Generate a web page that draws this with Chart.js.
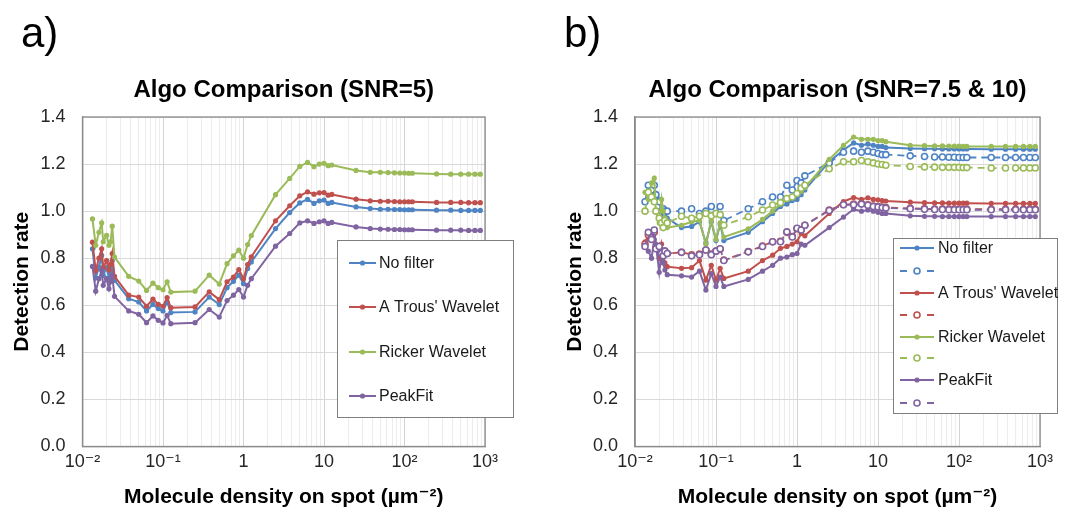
<!DOCTYPE html>
<html><head><meta charset="utf-8">
<script src="https://cdn.jsdelivr.net/npm/chart.js@4.4.1/dist/chart.umd.min.js"></script>
<style>
html,body{margin:0;padding:0;background:#fff;}
#wrap{position:relative;width:1072px;height:510px;overflow:hidden;background:#fff;}
.pane{position:absolute;top:0;width:536px;height:510px;}
.tag{position:absolute;font-family:"Liberation Sans",Arial,sans-serif;font-size:42px;line-height:42px;color:#000;}
</style></head><body>
<div id="wrap">
 <div class="pane" style="left:0"><canvas id="ca" width="536" height="510"></canvas></div>
 <div class="pane" style="left:536px"><canvas id="cb" width="536" height="510"></canvas></div>
 <div class="tag" style="left:21px;top:12px">a)</div>
 <div class="tag" style="left:564px;top:12px">b)</div>
</div>
<script>
// ---------- data ----------
const density = [0.0133, 0.0146, 0.016, 0.0173, 0.0181, 0.0199, 0.0213, 0.0223, 0.0234, 0.025,
  0.0375, 0.05, 0.0625, 0.075, 0.0875, 0.1, 0.1125, 0.125,
  0.25, 0.375, 0.5, 0.625, 0.75, 0.875, 1, 1.125, 1.25,
  2.5, 3.75, 5, 6.25, 7.5, 8.75, 10, 11.25, 12.5,
  25, 37.5, 50, 62.5, 75, 87.5, 100, 112.5, 125,
  250, 375, 500, 625, 750, 875];

const xTickLabels = ['10\u207B\u00B2', '10\u207B\u00B9', '1', '10', '10\u00B2', '10\u00B3'];
const yTickValues = [0, 0.2, 0.4, 0.6, 0.8, 1.0, 1.2, 1.4];
const seriesNames = ['No filter', "A Trous' Wavelet", 'Ricker Wavelet', 'PeakFit'];
const titleA = 'Algo Comparison (SNR=5)';
const titleB = 'Algo Comparison (SNR=7.5 & 10)';
const xTitle = 'Molecule density on spot (\u00B5m\u207B\u00B2)';
const yTitle = 'Detection rate';

// panel a
const noFilterA = [0.84, 0.717, 0.762, 0.812, 0.727, 0.76, 0.717, 0.748, 0.79, 0.706,
  0.628, 0.614, 0.576, 0.604, 0.586, 0.576, 0.614, 0.569,
  0.572, 0.635, 0.603, 0.675, 0.702, 0.728, 0.692, 0.756, 0.784,
  0.926, 0.994, 1.035, 1.05, 1.033, 1.044, 1.047, 1.033, 1.037,
  1.018, 1.011, 1.008, 1.008, 1.007, 1.007, 1.006, 1.006, 1.006,
  1.004, 1.004, 1.003, 1.003, 1.003, 1.003];
const aTrousA = [0.868, 0.748, 0.8, 0.84, 0.76, 0.79, 0.75, 0.775, 0.82, 0.723,
  0.643, 0.635, 0.596, 0.626, 0.604, 0.596, 0.633, 0.59,
  0.593, 0.657, 0.624, 0.70, 0.72, 0.752, 0.713, 0.773, 0.806,
  0.959, 1.023, 1.065, 1.082, 1.072, 1.078, 1.079, 1.068, 1.071,
  1.051, 1.044, 1.042, 1.042, 1.041, 1.04, 1.04, 1.04, 1.04,
  1.037, 1.037, 1.037, 1.036, 1.036, 1.036];
const rickerA = [0.967, 0.855, 0.91, 0.95, 0.87, 0.897, 0.855, 0.87, 0.936, 0.805,
  0.723, 0.703, 0.663, 0.694, 0.675, 0.666, 0.70, 0.656,
  0.66, 0.728, 0.69, 0.777, 0.81, 0.834, 0.80, 0.858, 0.896,
  1.07, 1.139, 1.19, 1.207, 1.189, 1.2, 1.203, 1.193, 1.196,
  1.173, 1.165, 1.165, 1.164, 1.163, 1.162, 1.162, 1.161, 1.161,
  1.158, 1.157, 1.157, 1.157, 1.157, 1.157];
const peakFitA = [0.765, 0.66, 0.713, 0.748, 0.685, 0.713, 0.67, 0.70, 0.727, 0.638,
  0.576, 0.562, 0.526, 0.555, 0.536, 0.525, 0.557, 0.522,
  0.526, 0.582, 0.55, 0.62, 0.643, 0.667, 0.635, 0.685, 0.713,
  0.851, 0.905, 0.95, 0.959, 0.948, 0.955, 0.959, 0.948, 0.952,
  0.933, 0.926, 0.924, 0.923, 0.922, 0.922, 0.921, 0.921, 0.921,
  0.919, 0.919, 0.919, 0.918, 0.918, 0.918];

// panel b (solid = SNR 7.5, dashed = SNR 10)
const noFilterB = [1.04, 1.07, 1.11, 1.08, 1.06, 1.05, 1.01, 0.95, 1.0, 0.97,
  0.93, 0.935, 0.955, 0.865, 0.955, 0.875, 0.945, 0.875,
  0.91, 0.955, 0.99, 1.02, 1.03, 1.045, 1.05, 1.07, 1.09,
  1.21, 1.26, 1.29, 1.28, 1.285, 1.28, 1.275, 1.275, 1.27,
  1.266, 1.265, 1.265, 1.264, 1.264, 1.264, 1.264, 1.264, 1.264,
  1.263, 1.263, 1.263, 1.263, 1.263, 1.263];
const noFilterB10 = [1.04, 1.11, 1.09, 1.11, 1.07, 1.04, 1.0, 1.01, 1.0, 1.0,
  1.0, 1.01, 0.99, 1.0, 1.02, 0.99, 1.02, 0.96,
  1.01, 1.04, 1.06, 1.06, 1.11, 1.09, 1.13, 1.12, 1.15,
  1.205, 1.25, 1.255, 1.25, 1.255, 1.25, 1.245, 1.24, 1.24,
  1.235, 1.232, 1.23, 1.23, 1.229, 1.229, 1.228, 1.228, 1.228,
  1.228, 1.228, 1.228, 1.228, 1.228, 1.228];
const aTrousB = [0.87, 0.885, 0.905, 0.92, 0.85, 0.80, 0.86, 0.82, 0.78, 0.764,
  0.757, 0.76, 0.79, 0.707, 0.77, 0.707, 0.757, 0.714,
  0.745, 0.79, 0.813, 0.842, 0.85, 0.86, 0.87, 0.905, 0.895,
  0.99, 1.041, 1.058, 1.05, 1.057, 1.05, 1.048, 1.045, 1.043,
  1.038, 1.036, 1.035, 1.035, 1.034, 1.034, 1.034, 1.034, 1.034,
  1.033, 1.033, 1.033, 1.033, 1.033, 1.033];
const aTrousB10 = [0.86, 0.9, 0.89, 0.91, 0.845, 0.85, 0.825, 0.815, 0.83, 0.82,
  0.825, 0.815, 0.818, 0.835, 0.818, 0.83, 0.838, 0.792,
  0.828, 0.852, 0.87, 0.872, 0.91, 0.892, 0.925, 0.922, 0.94,
  1.005, 1.028, 1.03, 1.032, 1.027, 1.022, 1.02, 1.017, 1.015,
  1.012, 1.01, 1.009, 1.009, 1.008, 1.008, 1.008, 1.008, 1.008,
  1.008, 1.008, 1.008, 1.008, 1.008, 1.008];
const rickerB = [1.08, 1.05, 1.12, 1.14, 1.0, 0.95, 1.05, 1.0, 0.97, 0.93,
  0.94, 0.955, 0.96, 0.86, 0.96, 0.88, 0.95, 0.89,
  0.925, 0.965, 1.0, 1.03, 1.05, 1.06, 1.075, 1.085, 1.1,
  1.22, 1.28, 1.315, 1.305, 1.305, 1.305, 1.3, 1.3, 1.295,
  1.28, 1.278, 1.277, 1.277, 1.276, 1.276, 1.276, 1.275, 1.275,
  1.275, 1.275, 1.275, 1.275, 1.275, 1.275];
const rickerB10 = [1.0, 1.08, 1.06, 1.04, 1.0, 0.97, 0.95, 0.93, 0.96, 0.95,
  0.978, 0.97, 0.978, 0.99, 0.98, 0.99, 0.985, 0.94,
  0.976, 1.005, 1.026, 1.036, 1.054, 1.06, 1.075, 1.097, 1.11,
  1.18, 1.21, 1.21, 1.215, 1.21, 1.205, 1.2, 1.198, 1.195,
  1.19, 1.188, 1.187, 1.186, 1.186, 1.186, 1.186, 1.185, 1.185,
  1.183, 1.183, 1.183, 1.183, 1.183, 1.183];
const peakFitB = [0.85, 0.83, 0.80, 0.88, 0.86, 0.74, 0.82, 0.78, 0.75, 0.73,
  0.725, 0.72, 0.745, 0.665, 0.735, 0.68, 0.72, 0.68,
  0.71, 0.745, 0.77, 0.80, 0.805, 0.815, 0.82, 0.86, 0.855,
  0.93, 0.975, 1.008, 1.0, 1.005, 1.0, 0.995, 0.99, 0.99,
  0.98, 0.978, 0.978, 0.977, 0.977, 0.977, 0.977, 0.977, 0.977,
  0.977, 0.977, 0.977, 0.977, 0.977, 0.977];
const peakFitB10 = [0.85, 0.91, 0.88, 0.92, 0.84, 0.85, 0.82, 0.81, 0.83, 0.82,
  0.825, 0.81, 0.815, 0.835, 0.815, 0.83, 0.84, 0.79,
  0.827, 0.85, 0.87, 0.87, 0.912, 0.89, 0.927, 0.92, 0.94,
  1.003, 1.027, 1.027, 1.03, 1.025, 1.02, 1.018, 1.015, 1.013,
  1.01, 1.008, 1.007, 1.007, 1.006, 1.006, 1.006, 1.006, 1.006,
  1.006, 1.006, 1.006, 1.006, 1.006, 1.006];

// ---------- styling ----------
const FONT = '"Liberation Sans", Arial, "DejaVu Sans", sans-serif';
const COLORS = ['#4f84c4', '#c0504d', '#9bbb59', '#8064a2'];

function pts(arr) { return density.map((x, i) => ({x: x, y: arr[i]})); }
function solid(label, color, arr) {
  return {label, data: pts(arr), borderColor: color, backgroundColor: color, borderWidth: 2,
    pointRadius: 2.6, pointBackgroundColor: color, pointBorderColor: color, pointBorderWidth: 0,
    tension: 0, fill: false};
}
function dashed(label, color, arr) {
  return {label, data: pts(arr), borderColor: color, backgroundColor: '#fff', borderWidth: 1.8,
    borderDash: [7, 5], pointRadius: 3, pointBackgroundColor: '#fff', pointBorderColor: color,
    pointBorderWidth: 1.6, tension: 0, fill: false, isDashed: true};
}

const gridValues = [];
for (let e = -2; e <= 2; e++) for (let m = 1; m <= 9; m++) gridValues.push(parseFloat((m * Math.pow(10, e)).toPrecision(6)));
gridValues.push(1000);
function isDecade(v) { if (!v) return false; const l = Math.log10(v); return Math.abs(l - Math.round(l)) < 1e-6; }

const frame = {
  id: 'frame',
  beforeDatasetsDraw(chart) {
    const {ctx, chartArea: a} = chart;
    ctx.save(); ctx.strokeStyle = '#8a8a8a'; ctx.lineWidth = 1.3;
    ctx.strokeRect(a.left, a.top, a.right - a.left, a.bottom - a.top);
    ctx.restore();
  }
};

const boxLegend = {
  id: 'boxLegend',
  afterDatasetsDraw(chart, args, o) {
    if (!o || !o.rowY) return;
    const ctx = chart.ctx;
    ctx.save();
    ctx.fillStyle = '#fff'; ctx.fillRect(o.x, o.y, o.w, o.h);
    ctx.strokeStyle = '#7f7f7f'; ctx.lineWidth = 1; ctx.strokeRect(o.x + 0.5, o.y + 0.5, o.w, o.h);
    chart.data.datasets.forEach((ds, k) => {
      const y = o.rowY[k];
      const cx = (o.sx0 + o.sx1) / 2;
      ctx.strokeStyle = ds.borderColor; ctx.lineWidth = ds.borderWidth;
      ctx.beginPath();
      if (ds.isDashed) {
        ctx.moveTo(o.sx0, y); ctx.lineTo(o.sx0 + 7, y);
        ctx.moveTo(o.sx1 - 7, y); ctx.lineTo(o.sx1, y);
      } else { ctx.moveTo(o.sx0, y); ctx.lineTo(o.sx1, y); }
      ctx.stroke();
      ctx.beginPath(); ctx.arc(cx, y, ds.pointRadius, 0, Math.PI * 2);
      ctx.fillStyle = ds.pointBackgroundColor; ctx.fill();
      if (ds.pointBorderWidth) { ctx.lineWidth = ds.pointBorderWidth; ctx.strokeStyle = ds.pointBorderColor; ctx.stroke(); }
      if (ds.label) {
        ctx.fillStyle = '#1a1a1a'; ctx.font = '16px ' + FONT;
        ctx.textBaseline = 'middle'; ctx.textAlign = 'left';
        ctx.fillText(ds.label, o.tx, y + 0.5);
      }
    });
    ctx.restore();
  }
};

function makeChart(id, title, datasets, legendOpts, padL, padR) {
  datasets.forEach((d, i) => { d.order = datasets.length - i; });
  return new Chart(document.getElementById(id), {
    type: 'line',
    data: {datasets},
    plugins: [frame, boxLegend],
    options: {
      responsive: false, animation: false, devicePixelRatio: 1, events: [],
      layout: {padding: {left: padL, right: padR, top: 0, bottom: 0}, autoPadding: false},
      plugins: {
        legend: {display: false}, tooltip: {enabled: false},
        title: {display: true, text: title, fullSize: false, color: '#000',
          font: {family: FONT, size: 24, weight: 'bold', lineHeight: 1.2},
          padding: {top: 76, bottom: 12.2}},
        boxLegend: legendOpts
      },
      scales: {
        x: {
          type: 'logarithmic', min: 0.01, max: 1000,
          afterBuildTicks: s => { s.ticks = gridValues.map(v => ({value: v})); },
          afterFit: s => { s.height = 63.5; },
          grid: {color: c => (c.tick && isDecade(c.tick.value)) ? '#d4d4d4' : '#ececec', drawTicks: false, lineWidth: 1},
          border: {display: true, color: '#8a8a8a', width: 1.3},
          ticks: {autoSkip: false, maxRotation: 0, minRotation: 0, padding: 5, color: '#262626',
            font: {family: FONT, size: 18},
            callback: v => isDecade(v) ? xTickLabels[Math.round(Math.log10(v)) + 2] : ''},
          title: {display: true, text: xTitle, color: '#000', font: {family: FONT, size: 21, weight: 'bold'}, padding: {top: 0, bottom: 0}}
        },
        y: {
          min: 0, max: 1.4,
          afterBuildTicks: s => { s.ticks = yTickValues.map(v => ({value: v})); },
          afterFit: s => { s.width = 82.5; },
          grid: {color: '#d9d9d9', drawTicks: false, lineWidth: 1},
          border: {display: true, color: '#8a8a8a', width: 1.3},
          ticks: {padding: 17, color: '#262626', font: {family: FONT, size: 18}, callback: v => Number(v).toFixed(1)},
          title: {display: true, text: yTitle, color: '#000', font: {family: FONT, size: 21, weight: 'bold'}, padding: {top: 10, bottom: 0}}
        }
      }
    }
  });
}

makeChart('ca', titleA, [
  solid(seriesNames[0], COLORS[0], noFilterA),
  solid(seriesNames[1], COLORS[1], aTrousA),
  solid(seriesNames[2], COLORS[2], rickerA),
  solid(seriesNames[3], COLORS[3], peakFitA)
], {x: 337, y: 240, w: 176, h: 177, sx0: 349, sx1: 376, tx: 379, rowY: [263, 307, 352, 396]}, 0, 51);

makeChart('cb', titleB, [
  solid(seriesNames[0], COLORS[0], noFilterB),
  dashed('', COLORS[0], noFilterB10),
  solid(seriesNames[1], COLORS[1], aTrousB),
  dashed('', COLORS[1], aTrousB10),
  solid(seriesNames[2], COLORS[2], rickerB),
  dashed('', COLORS[2], rickerB10),
  solid(seriesNames[3], COLORS[3], peakFitB),
  dashed('', COLORS[3], peakFitB10)
], {x: 357, y: 238, w: 164, h: 175, sx0: 364, sx1: 398, tx: 402, rowY: [248, 271, 293, 315, 337, 358, 380, 403]}, 16.5, 32);
</script>
</body></html>
